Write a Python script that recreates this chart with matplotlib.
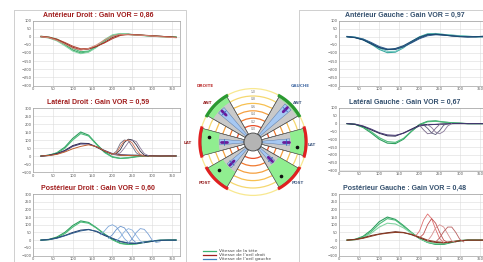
import matplotlib
matplotlib.use('Agg')
import matplotlib.pyplot as plt
from matplotlib.patches import Wedge, Circle, Rectangle
import numpy as np

# time axis (ms) of the traces
t = [20, 40, 60, 80, 100, 120, 140, 160, 180, 200, 220, 240, 260, 280, 300, 320, 340, 360]

# Anterieur Droit
ad_head = [[0, -5, -20, -48, -82, -100, -92, -62, -22, 8, 18, 16, 12, 8, 5, 2, 0, -2],
           [3, -2, -14, -40, -72, -92, -88, -60, -26, 4, 15, 14, 10, 8, 4, 2, 0, 0],
           [0, -8, -25, -55, -88, -104, -95, -65, -18, 12, 20, 15, 11, 6, 3, 0, -2, -4]]
ad_eye = [[0, -5, -18, -40, -65, -80, -76, -60, -35, -5, 12, 15, 12, 8, 5, 3, 0, -5],
          [3, -2, -15, -35, -58, -74, -72, -58, -38, -12, 8, 14, 12, 10, 6, 3, 0, -3],
          [0, -6, -22, -45, -70, -82, -72, -50, -20, 5, 15, 12, 10, 8, 4, 0, -3, -6]]
ad_sacc = []

# Lateral Droit
ld_head = [[0, 5, 20, 55, 110, 150, 130, 75, 25, -5, -15, -12, -5, 0, 2, 0, 0, 0],
           [0, 4, 18, 48, 100, 140, 125, 72, 22, -8, -15, -10, -3, 0, 0, 0, 0, 2]]
ld_eye = [[0, 5, 15, 35, 65, 80, 78, 55, 30, 10, 5, 5, 5, 3, 2, 0, 0, 0],
          [-2, 3, 12, 30, 60, 75, 75, 58, 35, 15, 8, 5, 3, 2, 0, 0, 2, 0],
          [0, 3, 10, 25, 45, 60, 70, 58, 32, 12, 5, 3, 2, 0, 0, 0, 0, 0]]
ld_sacc = [(200, [10, 30, 80, 100, 95, 60, 20, 5, 0]),
           (200, [10, 15, 40, 85, 105, 100, 70, 30, 5, 0]),
           (200, [8, 10, 20, 50, 85, 100, 90, 50, 15, 3]),
           (200, [10, 20, 60, 95, 100, 80, 40, 10, 0])]

# Posterieur Droit
pd_head = [[0, 5, 20, 50, 95, 125, 115, 80, 40, 5, -20, -28, -25, -15, -8, -2, 0, 0],
           [0, 3, 15, 42, 85, 118, 110, 78, 38, 2, -22, -28, -22, -12, -5, 0, 0, 2]]
pd_eye = [[0, 4, 15, 30, 50, 65, 70, 55, 30, 10, -10, -20, -22, -15, -8, -2, 0, 0],
          [0, 3, 12, 28, 45, 60, 68, 58, 35, 12, -8, -18, -20, -12, -5, 0, 0, 0]]
pd_sacc = [(170, [35, 60, 90, 100, 85, 50, 10, -15]),
           (190, [12, 35, 70, 90, 80, 45, 5, -18]),
           (210, [-5, 20, 55, 75, 65, 30, -5, -20]),
           (240, [-20, 10, 50, 75, 70, 40, 0, -15, -10])]

# Anterieur Gauche
ag_head = [[0, -4, -18, -45, -78, -98, -95, -68, -30, 0, 18, 20, 14, 10, 6, 3, 0, 0],
           [2, -2, -14, -38, -70, -90, -90, -65, -32, -4, 14, 18, 14, 9, 5, 2, 0, 0]]
ag_eye = [[0, -5, -18, -40, -65, -78, -78, -62, -35, -8, 10, 16, 12, 6, 2, 0, 0, 2],
          [2, -3, -14, -35, -60, -75, -76, -60, -38, -12, 6, 12, 10, 5, 2, 0, 0, 0],
          [0, -6, -20, -45, -68, -80, -72, -55, -28, -2, 14, 15, 10, 5, 0, -2, 0, 4]]
ag_sacc = []

# Lateral Gauche
lg_head = [[0, -5, -25, -60, -100, -125, -128, -100, -50, -5, 15, 18, 10, 6, 3, 0, 0, 0],
           [0, -4, -20, -52, -90, -115, -120, -95, -48, -8, 12, 15, 10, 5, 2, 0, 0, 0]]
lg_eye = [[0, -5, -18, -40, -62, -78, -80, -60, -35, -10, -5, -5, -3, 0, 0, 0, 0, 0],
          [0, -3, -15, -35, -58, -72, -75, -62, -38, -15, -8, -5, -2, 0, 2, 0, 0, 0]]
lg_sacc = [(200, [-10, -40, -65, -60, -30, -5, 0]),
           (210, [-8, -30, -60, -70, -45, -10, 0]),
           (220, [-6, -25, -55, -65, -50, -15, 0])]

# Posterieur Gauche
pg_head = [[0, 5, 25, 65, 120, 150, 135, 95, 50, 10, -15, -28, -28, -15, -5, 0, 0, 0],
           [0, 4, 20, 55, 105, 140, 130, 90, 48, 12, -15, -25, -25, -12, -3, 0, 0, 0],
           [0, 3, 15, 45, 85, 110, 105, 80, 45, 10, -12, -22, -22, -10, -2, 0, 0, 0]]
pg_eye = [[0, 5, 15, 30, 40, 48, 55, 50, 35, 15, -5, -15, -18, -12, -5, 0, 0, 0],
          [0, 3, 12, 25, 38, 45, 50, 48, 38, 20, 0, -10, -15, -10, -3, 0, 0, 0]]
pg_sacc = [(190, [25, 60, 130, 170, 140, 70, 10, -15]),
           (200, [15, 40, 100, 140, 110, 50, 0, -15]),
           (220, [-5, 30, 80, 100, 85, 40, -5, -15]),
           (240, [-12, 15, 55, 85, 85, 50, 5, -12])]

titles = ["Antérieur Droit : Gain VOR = 0,86", "Latéral Droit : Gain VOR = 0,59",
          "Postérieur Droit : Gain VOR = 0,60", "Antérieur Gauche : Gain VOR = 0,97",
          "Latéral Gauche : Gain VOR = 0,67", "Postérieur Gauche : Gain VOR = 0,48"]
gains = [0.86, 0.59, 0.60, 0.97, 0.67, 0.48]
ring_labels = ["0,0", "0,2", "0,4", "0,6", "0,8", "1,0"]
legend_labels = ["Vitesse de la tête", "Vitesse de l'oeil droit", "Vitesse de l'oeil gauche"]

W, H = 483, 262
fig = plt.figure(figsize=(W / 100, H / 100), dpi=100)
bg = fig.add_axes([0, 0, 1, 1])
bg.set_xlim(0, W)
bg.set_ylim(H, 0)
bg.axis('off')


def px_axes(x0, y0, x1, y1):
    return fig.add_axes([x0 / W, 1 - y1 / H, (x1 - x0) / W, (y1 - y0) / H])


# frames
bg.add_patch(Rectangle((14, 10), 172, 260, fill=False, ec='#c8c8c8', lw=0.6))
bg.add_patch(Rectangle((299, 10), 200, 260, fill=False, ec='#c8c8c8', lw=0.6))

greens = ['#2e9e5e', '#4cbb7a', '#82d4a2']
teals = ['#3aa8a0', '#74c9c1']
reds = ['#8b1a1a', '#b0402e', '#d08a78']
navy = ['#1c3566', '#2f5d8c', '#184a70']
purp = ['#24244a', '#463872', '#c06030']

panels = [
    (ad_head, ad_eye, ad_sacc, greens, reds, [], (33, 20.5, 180, 85.5), (-300, 100), 98, 15.5, '#a01c1c'),
    (ld_head, ld_eye, ld_sacc, greens, purp, ['#6e6e80', '#303042', '#8a7a9a', '#d07050'],
     (33, 108, 180, 172), (-100, 300), 98, 102, '#a01c1c'),
    (pd_head, pd_eye, pd_sacc, greens, navy, ['#7fa7d8', '#6b95cc', '#8fb4e0', '#7aa0d4'],
     (33, 194, 180, 255.5), (-100, 300), 98, 188, '#a01c1c'),
    (ag_head, ag_eye, ag_sacc, teals, navy, [], (339, 20.5, 488, 85.5), (-300, 100), 405, 15.5, '#34506e'),
    (lg_head, lg_eye, lg_sacc, greens, purp, ['#7a6a8a', '#5a5a7a', '#8a7a9a'],
     (339, 108, 488, 170.5), (-300, 100), 405, 102.5, '#34506e'),
    (pg_head, pg_eye, pg_sacc, greens, ['#6b2418', '#8a3a22'], ['#e07070', '#c05050', '#d89090', '#b86060'],
     (339, 194, 488, 255.5), (-100, 300), 405, 188, '#34506e'),
]

for i, (heads, eyes, saccs, hc, ec, sc, box, yl, tx, ty, tcol) in enumerate(panels):
    ax = px_axes(*box)
    for j, h in enumerate(heads):
        ax.plot(t, h, color=hc[j % len(hc)], lw=0.8)
    for j, e in enumerate(eyes):
        ax.plot(t, e, color=ec[j % len(ec)], lw=0.7)
    for j, (start, vals) in enumerate(saccs):
        ax.plot(np.arange(len(vals)) * 10 + start, vals, color=sc[j % len(sc)], lw=0.6)
    ax.set_xlim(0, 370)
    ax.set_ylim(*yl)
    ax.set_xticks(range(0, 351, 50))
    ax.set_yticks(range(yl[0], yl[1] + 1, 50))
    ax.grid(True, color='#dcdcdc', lw=0.4)
    ax.set_axisbelow(True)
    ax.tick_params(length=0, labelsize=2.6, colors='#555555', pad=1.2)
    for s in ax.spines.values():
        s.set_color('#a0a0a0')
        s.set_linewidth(0.5)
    fig.text(tx / W, 1 - ty / H, titles[i], ha='center', va='center', fontsize=5.0,
             fontweight='bold', color=tcol, family='Liberation Sans')

# canal diagram (pixel coordinates, y downwards)
cx, cy, R = 253, 142, 52
ring_cols = ['#e8502a', '#f07a30', '#f5a040', '#f7c050', '#f5d870', '#f8e890']
for k in range(6):
    r = 9 + 7.4 * (k + 1)
    bg.add_patch(Circle((cx, cy), r, fill=False, ec=ring_cols[k], lw=0.9))
    bg.text(cx, cy - r + 3.5, ring_labels[k], fontsize=2.2, color='#666666', ha='center', va='center')

dirs = [135, 180, 225, 45, 0, 315]      # ANT/LAT/POST droit then gauche
bar_cols = ['#2a9a30', '#e02020', '#e02020', '#2a9a30', '#e02020', '#e02020']
hw = 15
for k, phi in enumerate(dirs):
    a1, a2 = -phi - hw, -phi + hw
    rg = 9 + gains[k] * 43
    bg.add_patch(Wedge((cx, cy), R, a1, a2, width=R - 9, fc='#c9c9c9', ec='#505050', lw=0.4))
    bg.add_patch(Wedge((cx, cy), R, a1, a2, width=R - rg, fc='#90ee90', ec='none'))
    bg.add_patch(Wedge((cx, cy), rg - 1, -phi - 5, -phi + 5, width=rg - 10, fc='#a6c8f2', ec='#5070a0', lw=0.3))
    bg.add_patch(Wedge((cx, cy), R, a1, a2, width=R - 9, fill=False, ec='#505050', lw=0.4))
    # end bar
    th = np.radians(np.linspace(-phi - hw - 2, -phi + hw + 2, 20))
    bg.plot(cx + (R + 1.2) * np.cos(th), cy + (R + 1.2) * np.sin(th), color=bar_cols[k], lw=2.2,
            solid_capstyle='butt')
    ca, sa = np.cos(np.radians(-phi)), np.sin(np.radians(-phi))
    rm = rg - 5
    bg.plot([cx + (rm - 3) * ca, cx + (rm + 3) * ca], [cy + (rm - 3) * sa, cy + (rm + 3) * sa],
            color='#6a1b9a', lw=2.0, solid_capstyle='round')
    bg.plot([cx + rm * ca - 3 * sa, cx + rm * ca + 3 * sa], [cy + rm * sa + 3 * ca, cy + rm * sa - 3 * ca],
            color='#3060c0', lw=0.5)
    if phi in (180, 225, 0, 315):
        off = np.radians(-phi + 6)
        bg.plot(cx + 44 * np.cos(off), cy + 44 * np.sin(off), 'o', color='#111111', ms=1.6)

bg.add_patch(Circle((cx, cy), 9, fc='#b4b4b4', ec='#404040', lw=0.6))

lab_l, lab_r = '#9a2a2a', '#4a6288'
bg.text(205, 86, 'DROITE', fontsize=3, color='#c03a3a', fontweight='bold', ha='center', va='center')
bg.text(300, 86, 'GAUCHE', fontsize=3, color='#4a70a8', fontweight='bold', ha='center', va='center')
for (x, y, s, c) in [(208, 103, 'ANT', lab_l), (188, 143, 'LAT', lab_l), (205, 183, 'POST', lab_l),
                     (298, 103, 'ANT', lab_r), (312, 145, 'LAT', lab_r), (298, 183, 'POST', lab_r)]:
    bg.text(x, y, s, fontsize=3, color=c, fontweight='bold', ha='center', va='center')

# legend
leg_cols = ['#3cb371', '#a02020', '#4080c0']
for k in range(3):
    y = 251 + 4 * k
    bg.plot([203, 216], [y, y], color=leg_cols[k], lw=0.9)
    bg.text(219, y, legend_labels[k], fontsize=3.2, color='#444444', va='center', ha='left')

fig.savefig('out.png', dpi=100)
